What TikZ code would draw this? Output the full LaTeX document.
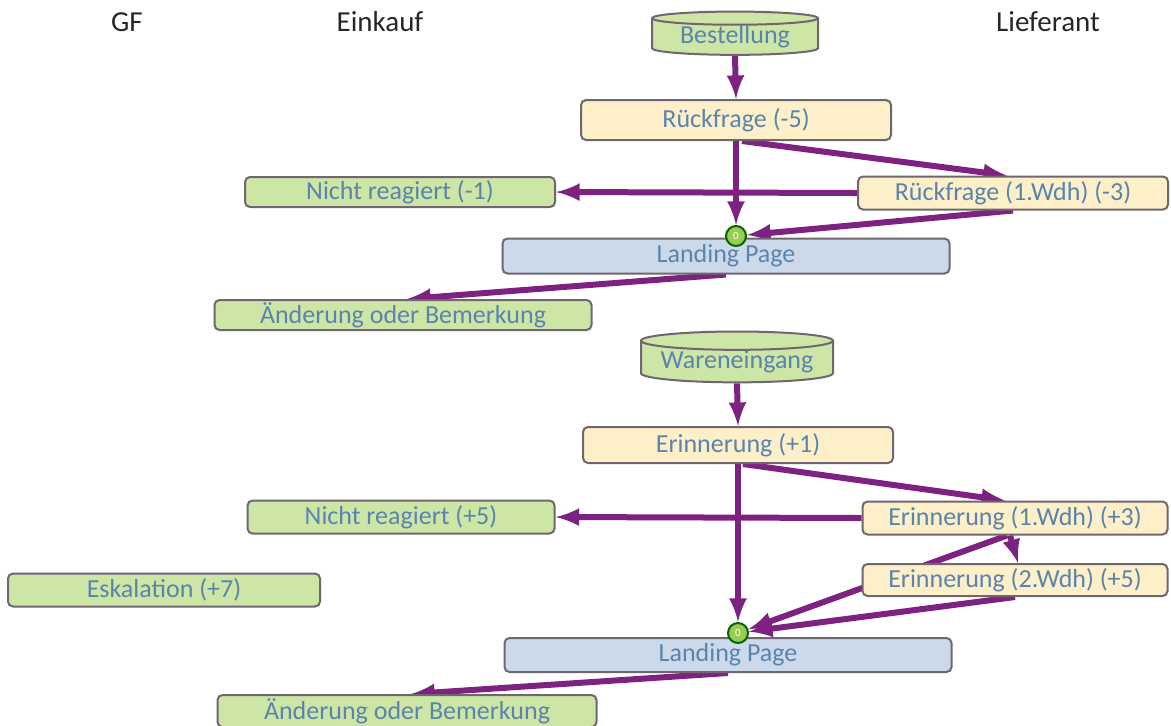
\documentclass[tikz,border=0pt]{standalone}
\usepackage{fontspec}
\setmainfont{Carlito}
\usetikzlibrary{shapes.geometric,backgrounds}
\definecolor{boxgreen}{HTML}{CDE6A6}
\definecolor{boxyellow}{HTML}{FDF0C8}
\definecolor{boxblue}{HTML}{CBD9EB}
\definecolor{boxline}{HTML}{6F6670}
\definecolor{boxtext}{HTML}{5A84AE}
\definecolor{flowpurple}{HTML}{7E2282}
\definecolor{zerogreen}{HTML}{9CCB55}
\begin{document}
\begin{tikzpicture}[x=0.5pt, y=-0.5pt, -latex,
    every edge/.style={draw=flowpurple, line width=3pt},
    box/.style={draw=boxline, line width=1pt, rounded corners=2.5pt, inner sep=0pt,
      text=boxtext, font=\fontsize{13}{15}\selectfont},
    green box/.style={box, fill=boxgreen},
    yellow box/.style={box, fill=boxyellow},
    blue box/.style={box, fill=boxblue},
    store/.style={draw=boxline, line width=1pt, fill=boxgreen, cylinder, shape border rotate=90,
      aspect=0.12, inner sep=0pt, text=boxtext, font=\fontsize{13}{15}\selectfont},
    zero/.style={circle, draw=black!60!green, line width=1pt, fill=zerogreen, minimum size=10pt,
      inner sep=0pt, text=white, font=\fontsize{5.5}{5.5}\selectfont},
    lane/.style={text=black!85, font=\fontsize{14.5}{16}\selectfont}]
  \useasboundingbox (0,0) rectangle (1171,725);

  \node[lane] (gf) at (127,22) {GF};
  \node[lane] (einkauf) at (380,22) {Einkauf};
  \node[lane] (lieferant) at (1048,22) {Lieferant};

  \node[store, minimum width=83pt, minimum height=21.5pt] (best) at (735,37) {Bestellung};
  \node[yellow box, minimum width=155pt, minimum height=20pt] (rf5) at (736,120) {Rückfrage (-5)};
  \node[green box, minimum width=155pt, minimum height=15pt] (nr1) at (400,192) {Nicht reagiert (-1)};
  \node[yellow box, minimum width=155pt, minimum height=16.5pt] (rf1) at (1013,193) {Rückfrage (1.Wdh) (-3)};
  \node[blue box, minimum width=223.5pt, minimum height=17.5pt] (lp1) at (726,256) {Landing Page};
  \node[zero] (zero1) at (736,236) {0};
  \node[green box, minimum width=188.5pt, minimum height=15pt] (aend1) at (403,315) {Änderung oder Bemerkung};

  \node[store, minimum width=96pt, minimum height=21.5pt] (ware) at (737,362) {Wareneingang};
  \node[yellow box, minimum width=155pt, minimum height=18pt] (er1) at (738,445) {Erinnerung (+1)};
  \node[green box, minimum width=153.5pt, minimum height=16.5pt] (nr5) at (401,517) {Nicht reagiert (+5)};
  \node[yellow box, minimum width=152.5pt, minimum height=16.5pt] (ew1) at (1015,518) {Erinnerung (1.Wdh) (+3)};
  \node[yellow box, minimum width=152.5pt, minimum height=16pt] (ew2) at (1015,580) {Erinnerung (2.Wdh) (+5)};
  \node[green box, minimum width=156pt, minimum height=16.5pt] (esk) at (164,590) {Eskalation (+7)};
  \node[blue box, minimum width=223.5pt, minimum height=17pt] (lp2) at (728,655) {Landing Page};
  \node[zero] (zero2) at (738,633) {0};
  \node[green box, minimum width=189.5pt, minimum height=16pt] (aend2) at (407,711) {Änderung oder Bemerkung};

  \begin{pgfonlayer}{background}
    \path (best.south) edge (rf5.north)
          (rf5.south) edge (zero1)
          ([xshift=3pt]rf5.south) edge ([xshift=-3pt]rf1.north)
          (rf1.west) edge (nr1.east)
          (rf1.south) edge (zero1)
          (lp1.south) edge ([xshift=2pt]aend1.north);
    \path (ware.south) edge (er1.north)
          (er1.south) edge (zero2)
          ([xshift=2.5pt]er1.south) edge ([xshift=-5pt]ew1.north)
          (ew1.west) edge (nr5.east)
          ([xshift=-2.5pt]ew1.south) edge ([xshift=1.5pt]ew2.north)
          ([xshift=-4pt]ew1.south) edge (zero2)
          (ew2.south) edge (zero2)
          (lp2.south) edge ([xshift=2pt]aend2.north);
  \end{pgfonlayer}
\end{tikzpicture}
\end{document}
